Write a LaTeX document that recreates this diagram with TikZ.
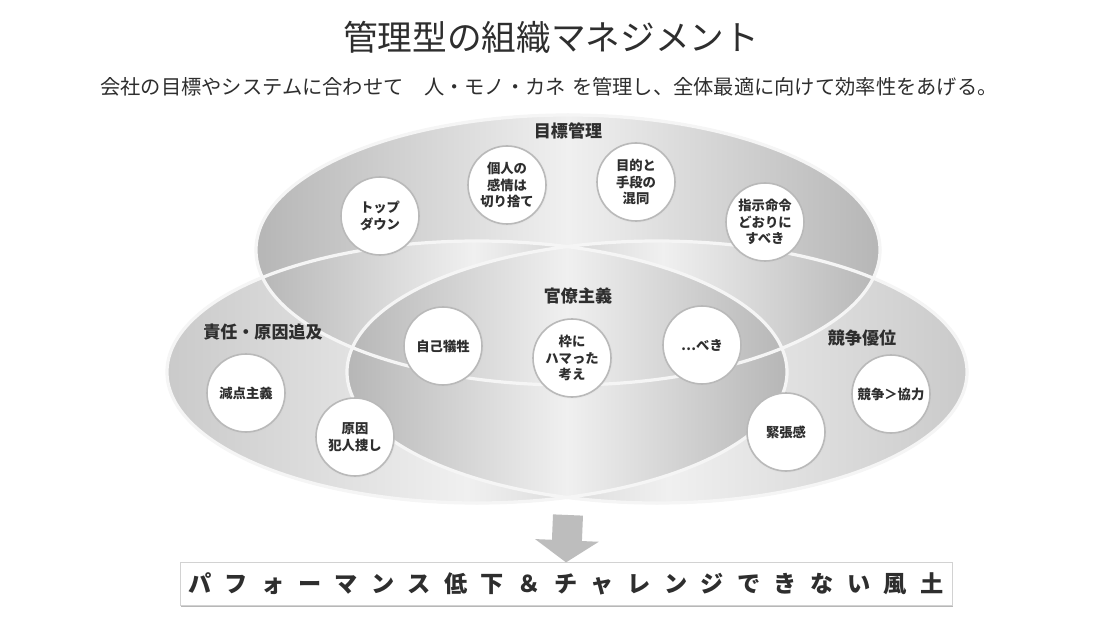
\documentclass[tikz,border=0pt]{standalone}
\usepackage{fontspec}
\newfontfamily\jp{Noto Sans CJK JP}
\newfontfamily\jpsp[LetterSpace=58]{Noto Sans CJK JP}
\usetikzlibrary{arrows.meta,shadows}
\definecolor{dk}{HTML}{B6B6B6}
\definecolor{md}{HTML}{CACACA}
\definecolor{lt}{HTML}{F0F0F0}
\definecolor{rimc}{HTML}{F5F5F5}
\definecolor{txt}{HTML}{2E2E2E}
\definecolor{arrc}{HTML}{BDBDBD}
\tikzset{
  topE/.style={insert path={(568,250) ellipse [x radius=312, y radius=135]}},
  lftE/.style={insert path={(477,372) ellipse [x radius=310, y radius=131]}},
  rgtE/.style={insert path={(657,372) ellipse [x radius=310, y radius=131]}},
  rim/.style={draw=rimc, line width=2.4pt},
  outerrim/.style={draw=gray!28, line width=1.5pt},
  bub/.style={circle, fill=white, draw=gray!55, line width=1.2pt, minimum size=58.5pt,
    inner sep=0pt, align=center, text=txt, font=\jp\bfseries\fontsize{10}{12.4}\selectfont,
    circular drop shadow={shadow xshift=0pt, shadow yshift=0pt, shadow scale=1.05, fill=gray!40, opacity=0.6}},
  lab/.style={text=txt, font=\jp\bfseries\fontsize{12.8}{15}\selectfont, inner sep=0pt},
}
\begin{document}
\begin{tikzpicture}[x=0.75pt,y=-0.75pt]
\useasboundingbox (0,0) rectangle (1120,620);
\fill[white] (0,0) rectangle (1120,620);

% title
\node[text=txt, font=\jp\fontsize{26}{30}\selectfont, inner sep=0pt] (title) at (551,37) {管理型の組織マネジメント};
\node[text=txt, font=\jp\fontsize{15.2}{18}\selectfont, inner sep=0pt] (sub) at (549,87) {会社の目標やシステムに合わせて　人・モノ・カネ\hspace{0.3em}を管理し、全体最適に向けて効率性をあげる。};

% outer soft border
\draw[outerrim, topE];
\draw[outerrim, lftE];
\draw[outerrim, rgtE];

% region shadings
\begin{scope}\clip[topE];
  \shade[left color=dk, right color=dk, middle color=lt] (257,110) rectangle (880,390);
\end{scope}
\begin{scope}\clip[lftE];
  \shade[left color=md, right color=dk, middle color=lt] (167,235) rectangle (767,510);
\end{scope}
\begin{scope}\clip[rgtE];
  \shade[left color=dk, right color=md, middle color=lt] (369,235) rectangle (967,510);
\end{scope}
\begin{scope}\clip[topE];\clip[lftE];
  \shade[left color=dk, right color=dk, middle color=lt] (257,235) rectangle (690,390);
\end{scope}
\begin{scope}\clip[topE];\clip[rgtE];
  \shade[left color=dk, right color=dk, middle color=lt] (446,235) rectangle (880,390);
\end{scope}
\begin{scope}\clip[lftE];\clip[rgtE];
  \shade[left color=dk, right color=dk, middle color=lt] (347,235) rectangle (787,510);
\end{scope}
\begin{scope}\clip[topE];\clip[lftE];\clip[rgtE];
  \shade[left color=dk, right color=dk, middle color=lt] (347,235) rectangle (787,390);
\end{scope}

% rims
\draw[rim, topE];
\draw[rim, lftE];
\draw[rim, rgtE];

% labels
\node[lab] (lTop) at (568,131) {目標管理};
\node[lab] (lMid) at (578,296) {官僚主義};
\node[lab] (lLft) at (263,332) {責任・原因追及};
\node[lab] (lRgt) at (862,338) {競争優位};

% bubbles
\node[bub] (b1) at (380,216) {トップ\\ダウン};
\node[bub] (b2) at (507,185) {個人の\\感情は\\切り捨て};
\node[bub] (b3) at (636,182) {目的と\\手段の\\混同};
\node[bub] (b4) at (765,222) {指示命令\\どおりに\\すべき};
\node[bub] (b5) at (443,346) {自己犠牲};
\node[bub] (b6) at (572,358) {枠に\\ハマった\\考え};
\node[bub] (b7) at (702,345) {⋯べき};
\node[bub] (b8) at (246,393) {減点主義};
\node[bub] (b9) at (355,437) {原因\\犯人捜し};
\node[bub] (b10) at (786,432) {緊張感};
\node[bub] (b11) at (891,394) {競争＞協力};

% result banner
\node[draw=gray!35, fill=white, minimum width=579pt, minimum height=32pt, inner sep=0pt,
  drop shadow={shadow xshift=0.6pt, shadow yshift=-1.6pt, fill=gray!70, opacity=0.8},
  text=txt, font=\jpsp\bfseries\fontsize{17.4}{20}\selectfont] (banner) at (566,584)
  {パフォーマンス低下＆チャレンジできない風土};

\coordinate (aTop) at (568,515);
\draw[arrc, line width=22.5pt, -{Triangle[width=47pt, length=16.5pt]}] (aTop) -- (banner.north);
\end{tikzpicture}
\end{document}
